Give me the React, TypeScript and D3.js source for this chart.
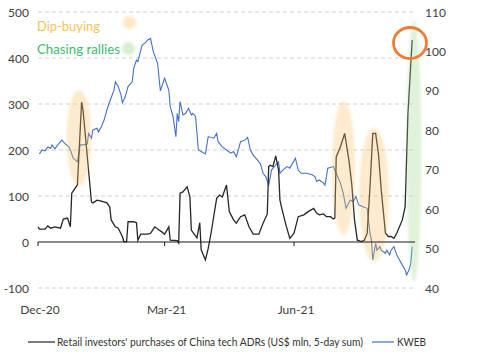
import React from "react";
import * as d3 from "d3";

const START = new Date(2020, 11, 1);
const END = new Date(2021, 7, 26);

// Retail investors' purchases (US$ mln, 5-day sum): day offsets from 2020-12-01, values
const purchaseDays = [0,1,5,7,9,12,16,18,21,23,24,28,31,32,38,39,42,45,49,51,52,55,57,60,61,63,64,68,70,71,73,78,80,83,86,88,90,93,94,99,100,101,103,106,108,109,113,115,116,119,121,123,127,129,131,134,136,139,141,144,147,150,153,157,160,163,164,165,167,169,171,172,173,176,179,182,185,189,192,196,198,200,203,205,208,210,211,212,215,218,221,223,225,227,230,232,234,236,238,240,242,244,247,249,251,253,255,259,261,262,263,266];
const purchaseValues = [33,28,28,35,30,33,30,50,52,33,106,124,304,287,87,85,91,89,85,76,48,33,30,12,1,1,44,44,42,4,17,17,19,33,26,22,17,33,4,3,-2,106,109,120,98,26,9,42,-17,-39,-14,19,95,102,98,124,66,48,41,55,59,33,17,17,41,61,164,167,164,187,157,91,77,40,8,19,55,59,66,73,63,59,61,55,55,50,52,185,207,236,178,127,48,4,1,4,19,120,236,236,193,113,19,12,12,8,19,48,77,178,280,439];

// KWEB price (US$): day offsets from 2020-12-01, values
const kwebDays = [1,3,5,7,9,10,12,14,17,19,22,23,25,28,30,32,35,36,38,39,42,43,45,47,49,51,54,55,57,59,60,62,64,67,68,70,71,74,76,78,80,82,85,87,90,93,94,96,98,99,100,101,103,105,107,109,110,112,114,116,119,121,125,127,128,131,134,137,139,141,144,147,149,151,153,155,158,160,162,164,166,169,171,172,174,177,179,183,185,187,191,195,197,198,200,203,204,206,210,212,215,217,219,222,224,226,228,231,234,236,237,238,240,241,243,244,247,248,250,251,253,255,257,259,261,262,264,265,266];
const kwebValues = [74.0,75.0,74.8,75.8,75.4,76.3,75.3,76.3,77.5,76.7,75.8,75.0,72.9,72.0,76.3,76.3,76.5,79.2,78.0,80.1,80.5,79.6,80.9,82.6,85.2,87.3,90.2,92.3,91.1,89.0,87.0,88.5,91.1,92.3,95.7,97.8,97.4,101.6,102.1,102.9,103.3,99.9,97.0,90.0,93.2,90.2,86.0,83.5,78.4,84.3,82.2,87.3,83.9,84.3,85.6,83.9,84.3,83.5,75.0,74.6,74.0,78.4,78.0,79.2,77.1,75.8,75.0,74.2,74.6,73.3,77.1,77.5,78.2,75.0,73.7,72.9,71.6,69.1,68.2,66.1,69.9,71.2,72.0,69.1,69.9,70.8,70.4,72.9,69.9,69.1,69.1,68.7,68.2,67.0,67.4,66.6,66.1,70.4,70.8,69.1,66.6,64.0,60.2,62.3,61.9,63.2,61.1,60.6,60.2,53.9,52.2,47.1,51.3,49.6,50.5,49.6,48.8,49.6,48.4,49.6,50.5,48.4,47.1,45.8,44.6,43.3,44.8,46.3,50.5];

const leftTicks = [-100, 0, 100, 200, 300, 400, 500];
const rightTicks = [40, 50, 60, 70, 80, 90, 100, 110];
const monthTicks = [new Date(2020, 11, 1), new Date(2021, 2, 1), new Date(2021, 5, 1)];
const monthLabels = ["Dec-20", "Mar-21", "Jun-21"];

const FONT = "Lato, 'Liberation Sans', sans-serif";

export default function App() {
  const x = d3.scaleTime().domain([START, END]).range([38, 415]);
  const yL = d3.scaleLinear().domain([-100, 500]).range([288, 12]);
  const yR = d3.scaleLinear().domain([40, 110]).range([288, 12]);
  const day = (d: number) => d3.timeDay.offset(START, d);

  const purchaseLine = d3
    .line<number>()
    .x((d, i) => x(day(purchaseDays[i])))
    .y((d) => yL(d));
  const kwebLine = d3
    .line<number>()
    .x((d, i) => x(day(kwebDays[i])))
    .y((d) => yR(d));

  const orange = "#f7c261";
  const green = "#a9d994";

  return (
    <svg
      width={503}
      height={358}
      style={{ position: "absolute", left: 0, top: 0, background: "#fff" }}
      fontFamily={FONT}
    >
      <defs>
        <filter id="soft" x="-50%" y="-50%" width="200%" height="200%">
          <feGaussianBlur stdDeviation="1.8" />
        </filter>
      </defs>
      {leftTicks
        .filter((t) => t !== 0)
        .map((t) => (
          <line
            key={t}
            x1={38}
            x2={413}
            y1={yL(t)}
            y2={yL(t)}
            stroke="#d0d0d0"
            strokeDasharray="4,3"
            strokeWidth={1}
          />
        ))}
      {leftTicks.map((t) => (
        <text key={t} x={29} y={yL(t) + 4.5} textAnchor="end" fontSize={12} fill="#404040">
          {t}
        </text>
      ))}
      {rightTicks.map((t) => (
        <text key={t} x={425} y={yR(t) + 4.5} textAnchor="start" fontSize={12} fill="#404040">
          {t}
        </text>
      ))}
      {monthTicks.map((m, i) => (
        <text key={i} x={x(m) + 2} y={314} textAnchor="middle" fontSize={12} fill="#404040">
          {monthLabels[i]}
        </text>
      ))}
      <path d={kwebLine(kwebValues) || ""} fill="none" stroke="#4472c4" strokeWidth={1.1} />
      <path d={purchaseLine(purchaseValues) || ""} fill="none" stroke="#262626" strokeWidth={1.3} />
      <g filter="url(#soft)">
        <ellipse cx={79} cy={138} rx={12.5} ry={48} fill={orange} fillOpacity={0.32} />
        <ellipse cx={343.5} cy={168} rx={11.5} ry={67} fill={orange} fillOpacity={0.32} />
        <ellipse cx={374} cy={195} rx={15} ry={67} fill={orange} fillOpacity={0.32} />
        <ellipse cx={414} cy={151} rx={7.5} ry={131} fill={green} fillOpacity={0.35} />
        <circle cx={129.5} cy={22.5} r={6.5} fill={orange} fillOpacity={0.38} />
        <circle cx={128.5} cy={48.5} r={6.5} fill={green} fillOpacity={0.45} />
      </g>
      <line x1={38} x2={415} y1={yL(0)} y2={yL(0)} stroke="#1a1a1a" strokeWidth={1.2} />
      {monthTicks.map((m, i) => (
        <line key={i} x1={x(m)} x2={x(m)} y1={yL(0)} y2={yL(0) + 4} stroke="#1a1a1a" strokeWidth={1} />
      ))}
      <ellipse cx={410} cy={43} rx={16.5} ry={15.5} fill="none" stroke="#ed7d31" strokeWidth={2.8} />
      <text x={37} y={31} fontSize={14} fill="#f2c35a" textLength={63} lengthAdjust="spacingAndGlyphs">
        Dip-buying
      </text>
      <text x={37} y={54} fontSize={14} fill="#3dbb6e" textLength={83} lengthAdjust="spacingAndGlyphs">
        Chasing rallies
      </text>
      <line x1={28} x2={55} y1={342} y2={342} stroke="#262626" strokeWidth={1.2} />
      <text x={57} y={346} fontSize={11} fill="#333" textLength={306} lengthAdjust="spacingAndGlyphs">
        Retail investors' purchases of China tech ADRs (US$ mln, 5-day sum)
      </text>
      <line x1={372} x2={394} y1={342} y2={342} stroke="#4472c4" strokeWidth={1.2} />
      <text x={397} y={346} fontSize={11} fill="#333" textLength={29} lengthAdjust="spacingAndGlyphs">
        KWEB
      </text>
    </svg>
  );
}
